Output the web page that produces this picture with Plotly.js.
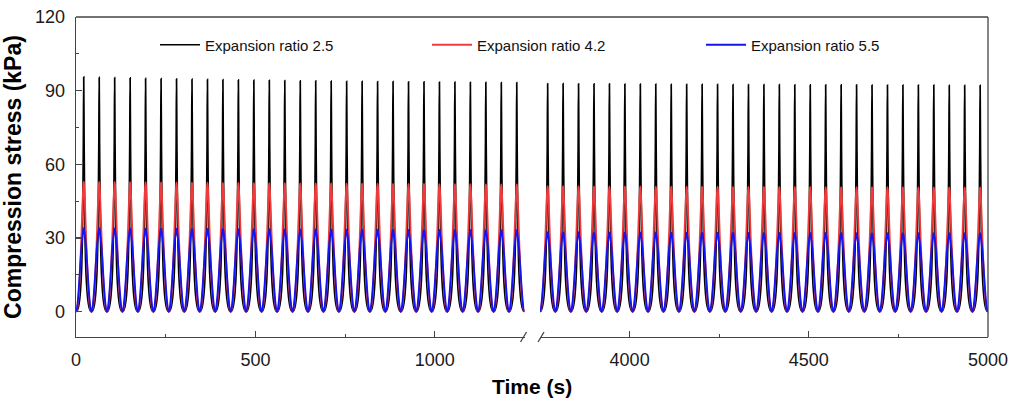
<!DOCTYPE html>
<html>
<head>
<meta charset="utf-8">
<script src="https://cdn.plot.ly/plotly-3.0.1.min.js"></script>
<style>
  html, body { margin: 0; padding: 0; background: #fff; }
  #chart { width: 1014px; height: 402px; }
</style>
</head>
<body>
<div id="chart"></div>
<script>
// ---- Data ----
const seriesNames = ['Expansion ratio 2.5', 'Expansion ratio 4.2', 'Expansion ratio 5.5'];
const seriesColors = ['#000000', '#ee3c3c', '#1414f0'];
const seriesWidths = [1.7, 1.9, 1.9];

const cyclePeriod = 43.1;          // s, one loading cycle
const leftFirstCycle = 0;          // first cycle drawn before the axis break
const rightFirstCycle = 87;        // first cycle drawn after the axis break

// phase within one cycle (0 = unloaded, 0.5 = peak)
const cyclePhase = [0, 0.05, 0.1, 0.15, 0.2, 0.25, 0.3, 0.35, 0.4, 0.425, 0.45, 0.475, 0.5,
                    0.525, 0.55, 0.575, 0.6, 0.65, 0.7, 0.75, 0.8, 0.85, 0.9, 0.95];
// stress within one cycle, as a fraction of that cycle's peak
const shape25 = [0, 0.002, 0.008, 0.018, 0.035, 0.06, 0.10, 0.16, 0.27, 0.37, 0.52, 0.72, 1.0,
                 0.72, 0.52, 0.37, 0.27, 0.16, 0.10, 0.06, 0.035, 0.018, 0.008, 0.002];
const shape42 = [0, 0.01, 0.04, 0.09, 0.17, 0.28, 0.42, 0.58, 0.76, 0.84, 0.91, 0.97, 1.0,
                 0.97, 0.91, 0.84, 0.76, 0.58, 0.42, 0.28, 0.17, 0.09, 0.04, 0.01];
const shape55 = [0, 0.025, 0.095, 0.2, 0.33, 0.48, 0.63, 0.77, 0.87, 0.91, 0.95, 0.98, 1.0,
                 0.98, 0.95, 0.91, 0.87, 0.77, 0.63, 0.48, 0.33, 0.2, 0.095, 0.025];

// peak stress (kPa) of every cycle
const peak25Left  = [95.6, 95.4, 95.3, 95.2, 95.0, 94.9, 94.8, 94.7, 94.6, 94.5, 94.4, 94.3, 94.2, 94.1, 94.0,
                     94.0, 93.9, 93.8, 93.8, 93.7, 93.7, 93.6, 93.6, 93.5, 93.5, 93.4, 93.4, 93.3, 93.3];
const peak25Right = [92.9, 92.9, 92.8, 92.8, 92.8, 92.7, 92.7, 92.7, 92.6, 92.6, 92.6, 92.6, 92.5, 92.5, 92.5,
                     92.5, 92.4, 92.4, 92.4, 92.4, 92.4, 92.3, 92.3, 92.3, 92.3, 92.3, 92.2, 92.2, 92.2];
const peak42Left  = [52.9, 52.8, 52.8, 52.7, 52.7, 52.6, 52.6, 52.5, 52.5, 52.4, 52.4, 52.3, 52.3, 52.3, 52.2,
                     52.2, 52.2, 52.1, 52.1, 52.1, 52.0, 52.0, 52.0, 51.9, 51.9, 51.9, 51.8, 51.8, 51.8];
const peak42Right = [51.1, 51.1, 51.1, 51.0, 51.0, 51.0, 51.0, 50.9, 50.9, 50.9, 50.9, 50.9, 50.8, 50.8, 50.8,
                     50.8, 50.8, 50.8, 50.7, 50.7, 50.7, 50.7, 50.7, 50.7, 50.6, 50.6, 50.6, 50.6, 50.6];
const peak55Left  = [34.0, 34.0, 33.9, 33.9, 33.8, 33.8, 33.8, 33.7, 33.7, 33.7, 33.6, 33.6, 33.6, 33.5, 33.5,
                     33.5, 33.5, 33.4, 33.4, 33.4, 33.4, 33.3, 33.3, 33.3, 33.3, 33.3, 33.2, 33.2, 33.2];
const peak55Right = [32.4, 32.4, 32.4, 32.3, 32.3, 32.3, 32.3, 32.3, 32.2, 32.2, 32.2, 32.2, 32.2, 32.1, 32.1,
                     32.1, 32.1, 32.1, 32.1, 32.1, 32.0, 32.0, 32.0, 32.0, 32.0, 32.0, 32.0, 32.0, 32.0];

const leftRange = [0, 1250];
const rightRange = [3750, 5000];
const yRange = [-10.3, 120];

// ---- build the traces ----
function buildSeries(firstCycle, peaks, shape) {
  const x = [], y = [];
  peaks.forEach((pk, i) => {
    const c = firstCycle + i;
    cyclePhase.forEach((ph, j) => {
      x.push((c + ph) * cyclePeriod);
      y.push(pk * shape[j]);
    });
  });
  x.push((firstCycle + peaks.length) * cyclePeriod);
  y.push(0);
  return {x, y};
}

const FONT = 'Liberation Sans, Arial, Helvetica, sans-serif';
const AXC = '#444';
const shapes = [shape25, shape42, shape55];
const leftPeaks = [peak25Left, peak42Left, peak55Left];
const rightPeaks = [peak25Right, peak42Right, peak55Right];
const legendIds = ['legend', 'legend2', 'legend3'];

const traces = [];
for (let s = 0; s < 3; s++) {
  const L = buildSeries(leftFirstCycle, leftPeaks[s], shapes[s]);
  const R = buildSeries(rightFirstCycle, rightPeaks[s], shapes[s]);
  traces.push({x: L.x, y: L.y, xaxis: 'x', yaxis: 'y', type: 'scatter', mode: 'lines',
               name: seriesNames[s], legend: legendIds[s],
               line: {color: seriesColors[s], width: seriesWidths[s], shape: 'spline'}});
  traces.push({x: R.x, y: R.y, xaxis: 'x2', yaxis: 'y', type: 'scatter', mode: 'lines',
               name: seriesNames[s], showlegend: false,
               line: {color: seriesColors[s], width: seriesWidths[s], shape: 'spline'}});
}

const W = 1014, H = 402;
const ml = 76, mr = 26, mt = 17, mb = 65;
const pw = W - ml - mr, ph = H - mt - mb;
const px = v => v / pw, py = v => v / ph;
const d1 = 0.4918, d2 = 0.5088;

function xaxisCfg(range, domain) {
  return {
    domain: domain, range: range, showgrid: false, zeroline: false,
    showline: true, linecolor: AXC, linewidth: 1.3,
    ticks: 'inside', ticklen: 6, tickwidth: 1.2, tickcolor: AXC,
    tick0: 0, dtick: 500, ticklabelstandoff: 6,
    minor: {dtick: 250, ticks: 'inside', ticklen: 3, tickwidth: 1.1, tickcolor: AXC},
    tickfont: {family: FONT, size: 18, color: '#1a1a1a'},
    anchor: 'y', fixedrange: true
  };
}

const legendCfg = (xp) => ({
  x: xp, y: 0.9125, xanchor: 'left', yanchor: 'middle', orientation: 'h',
  bgcolor: 'rgba(0,0,0,0)', borderwidth: 0, itemwidth: 40,
  font: {family: FONT, size: 15, color: '#111'}
});

function slash(xc) {
  return {type: 'line', xref: 'paper', yref: 'paper',
          x0: xc - px(3), y0: -py(5), x1: xc + px(3), y1: py(5),
          line: {color: AXC, width: 1.3}};
}

const layout = {
  width: W, height: H,
  margin: {l: ml, r: mr, t: mt, b: mb, pad: 0},
  paper_bgcolor: '#fff', plot_bgcolor: '#fff',
  showlegend: true,
  xaxis: xaxisCfg(leftRange, [0, d1]),
  xaxis2: xaxisCfg(rightRange, [d2, 1]),
  yaxis: {
    range: yRange, showgrid: false, zeroline: false,
    showline: true, linecolor: AXC, linewidth: 1.3,
    ticks: 'inside', ticklen: 6, tickwidth: 1.2, tickcolor: AXC,
    tick0: 0, dtick: 30, ticklabelstandoff: 6,
    minor: {dtick: 15, ticks: 'inside', ticklen: 3, tickwidth: 1.1, tickcolor: AXC},
    tickfont: {family: FONT, size: 18, color: '#1a1a1a'},
    title: {text: 'Compression stress (kPa)', standoff: 10,
            font: {family: FONT, size: 23, color: '#000', weight: 'bold'}},
    fixedrange: true
  },
  legend: legendCfg(px(155 - ml)),
  legend2: legendCfg(px(427 - ml)),
  legend3: legendCfg(px(701 - ml)),
  shapes: [
    {type: 'line', xref: 'paper', yref: 'paper', x0: 0, x1: 1, y0: 1, y1: 1,
     line: {color: AXC, width: 1.3}},
    {type: 'line', xref: 'paper', yref: 'paper', x0: 1, x1: 1, y0: 0, y1: 1,
     line: {color: AXC, width: 1.3}},
    slash(d1 - px(1)),
    slash(d2 + px(1))
  ],
  annotations: [
    {text: '<b>Time (s)</b>', xref: 'paper', yref: 'paper', x: 0.5, y: -py(49),
     xanchor: 'center', yanchor: 'middle', showarrow: false,
     font: {family: FONT, size: 21, color: '#000'}}
  ]
};

Plotly.newPlot('chart', traces, layout, {displayModeBar: false, staticPlot: true});
</script>
</body>
</html>
